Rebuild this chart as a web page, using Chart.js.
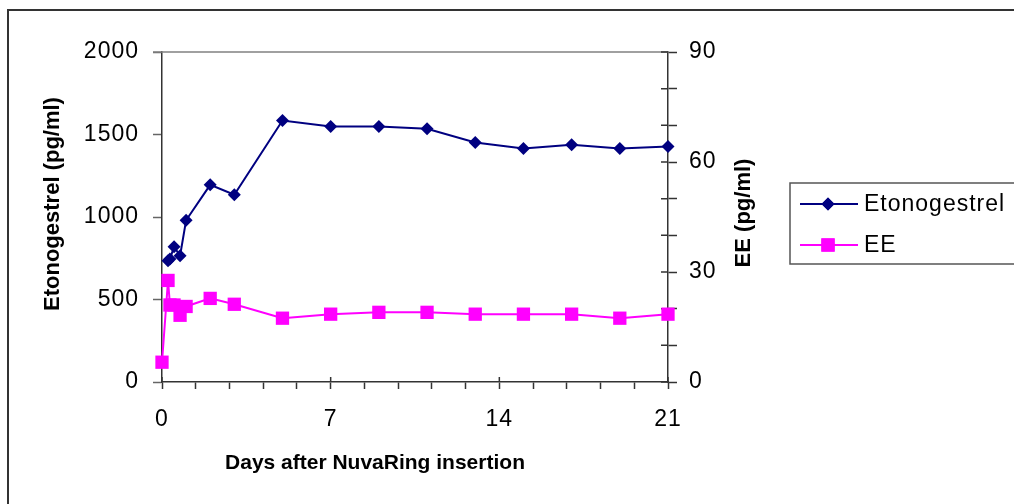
<!DOCTYPE html>
<html>
<head>
<meta charset="utf-8">
<script src="https://cdn.jsdelivr.net/npm/chart.js@4.4.1/dist/chart.umd.min.js"></script>
<style>
  html, body { margin: 0; padding: 0; background: #fff; }
  #wrap { position: relative; width: 1014px; height: 504px; }
</style>
</head>
<body>
<div id="wrap"><canvas id="chart"></canvas></div>
<script>
// values
const days = [0, 0.25, 0.33, 0.5, 0.75, 1, 2, 3, 5, 7, 9, 11, 13, 15, 17, 19, 21];
const etonogestrel = [null, 735, 745, 820, 765, 980, 1195, 1135, 1585, 1548, 1548, 1535, 1452, 1415, 1438, 1415, 1428];
const ee = [5.4, 27.7, 21, 21, 18.2, 20.6, 22.8, 21.2, 17.4, 18.5, 19, 19, 18.5, 18.5, 18.5, 17.4, 18.5];

const xTicks = [0, 1.4, 2.8, 4.2, 5.6, 7, 8.4, 9.8, 11.2, 12.6, 14, 15.4, 16.8, 18.2, 19.6, 21];
const xLabels = [0, 7, 14, 21];
const eeLabels = [0, 30, 60, 90];

const FONT = "'Liberation Sans', Arial, sans-serif";
const NAVY = '#000080';
const MAGENTA = '#FF00FF';

function toPoints(ys) {
  return days.map((d, i) => ({ x: d, y: ys[i] })).filter(p => p.y !== null);
}

const spacing = {
  id: 'spacing',
  beforeLayout(chart) { chart.ctx.letterSpacing = '1px'; },
  beforeDraw(chart) { chart.ctx.letterSpacing = '1px'; }
};

// frame, plot top border and the tick parts that cross into the plot
const frame = {
  id: 'frame',
  beforeDatasetsDraw(chart) {
    const { ctx, chartArea: a, scales } = chart;
    ctx.save();
    ctx.strokeStyle = '#333';
    ctx.lineWidth = 2;
    ctx.strokeRect(8, 10, chart.width + 10, chart.height + 10);

    ctx.strokeStyle = '#808080';
    ctx.lineWidth = 1.5;
    ctx.beginPath();
    ctx.moveTo(a.left - 9, a.top);
    ctx.lineTo(a.right, a.top);
    ctx.stroke();

    ctx.strokeStyle = '#333';
    ctx.beginPath();
    xLabels.forEach(v => {
      const px = scales.x.getPixelForValue(v);
      ctx.moveTo(px, a.bottom);
      ctx.lineTo(px, a.bottom - 5);
    });
    scales.y2.ticks.forEach(t => {
      const py = scales.y2.getPixelForValue(t.value);
      ctx.moveTo(a.right, py);
      ctx.lineTo(a.right - 7, py);
    });
    ctx.stroke();
    ctx.restore();
  },
  afterDraw(chart) {
    const { ctx, chartArea: a } = chart;
    ctx.save();
    ctx.letterSpacing = '0px';
    ctx.fillStyle = '#000';
    ctx.textAlign = 'center';
    ctx.textBaseline = 'middle';
    const midY = (a.top + a.bottom) / 2;

    ctx.font = 'bold 22px ' + FONT;
    ctx.save();
    ctx.translate(a.left - 109, midY - 13);
    ctx.rotate(-Math.PI / 2);
    ctx.fillText('Etonogestrel (pg/ml)', 0, 0);
    ctx.restore();

    ctx.save();
    ctx.translate(a.right + 76, midY - 4);
    ctx.rotate(-Math.PI / 2);
    ctx.fillText('EE (pg/ml)', 0, 0);
    ctx.restore();

    ctx.font = 'bold 21px ' + FONT;
    ctx.fillText('Days after NuvaRing insertion', (a.left + a.right) / 2 - 40, a.bottom + 81);

    // legend
    const lx = a.right + 122, ly = 183;
    ctx.strokeStyle = '#555';
    ctx.lineWidth = 1.5;
    ctx.strokeRect(lx, ly, 300, 81);
    const items = [
      { label: 'Etonogestrel', color: NAVY, style: 'rectRot', r: 6.5, y: ly + 21 },
      { label: 'EE', color: MAGENTA, style: 'rect', r: 9.4, y: ly + 62 }
    ];
    ctx.letterSpacing = '1px';
    ctx.font = '23px ' + FONT;
    ctx.textAlign = 'left';
    items.forEach(it => {
      ctx.strokeStyle = it.color;
      ctx.lineWidth = 2;
      ctx.beginPath();
      ctx.moveTo(lx + 10, it.y);
      ctx.lineTo(lx + 68, it.y);
      ctx.stroke();
      ctx.fillStyle = it.color;
      Chart.helpers.drawPoint(ctx, { pointStyle: it.style, radius: it.r, borderWidth: 0, rotation: 0 }, lx + 38, it.y);
      ctx.fill();
      ctx.fillStyle = '#000';
      ctx.fillText(it.label, lx + 74, it.y + 1);
    });
    ctx.restore();
  }
};

Chart.defaults.font.family = FONT;
Chart.defaults.font.size = 23;
Chart.defaults.color = '#000';

new Chart(document.getElementById('chart'), {
  type: 'line',
  data: {
    datasets: [
      {
        label: 'Etonogestrel',
        data: toPoints(etonogestrel),
        yAxisID: 'y',
        borderColor: NAVY,
        backgroundColor: NAVY,
        borderWidth: 2,
        pointStyle: 'rectRot',
        pointRadius: 6.5,
        pointHoverRadius: 6.5,
        pointBorderWidth: 0,
        tension: 0,
        clip: false
      },
      {
        label: 'EE',
        data: toPoints(ee),
        yAxisID: 'y2',
        borderColor: MAGENTA,
        backgroundColor: MAGENTA,
        borderWidth: 2,
        pointStyle: 'rect',
        pointRadius: 9.4,
        pointHoverRadius: 9.4,
        pointBorderWidth: 0,
        tension: 0,
        clip: false
      }
    ]
  },
  options: {
    responsive: true,
    maintainAspectRatio: false,
    animation: false,
    devicePixelRatio: 1,
    layout: { padding: { top: 52, left: 0, right: 0, bottom: 0 } },
    plugins: {
      legend: { display: false },
      tooltip: { enabled: false }
    },
    scales: {
      x: {
        type: 'linear',
        min: 0,
        max: 21,
        afterBuildTicks: s => { s.ticks = xTicks.map(v => ({ value: v })); },
        afterFit: s => { s.height = 122; },
        grid: { drawOnChartArea: false, tickLength: 7, tickColor: '#333', tickWidth: 1.5 },
        border: { color: '#333', width: 1.5 },
        ticks: {
          autoSkip: false,
          maxRotation: 0,
          padding: 17,
          callback: v => (xLabels.includes(v) ? String(v) : '')
        }
      },
      y: {
        position: 'left',
        min: 0,
        max: 2000,
        afterFit: s => { s.width = 162; },
        grid: { drawOnChartArea: false, tickLength: 9, tickColor: '#666', tickWidth: 1.5 },
        border: { color: '#333', width: 1.5 },
        ticks: { stepSize: 500, padding: 14, callback: v => String(v) }
      },
      y2: {
        position: 'right',
        min: 0,
        max: 90,
        afterFit: s => { s.width = 346; },
        grid: { drawOnChartArea: false, tickLength: 9, tickColor: '#333', tickWidth: 1.5 },
        border: { color: '#333', width: 1.5 },
        ticks: {
          stepSize: 10,
          padding: 12,
          callback: v => (eeLabels.includes(v) ? String(v) : '')
        }
      }
    }
  },
  plugins: [spacing, frame]
});
</script>
</body>
</html>
